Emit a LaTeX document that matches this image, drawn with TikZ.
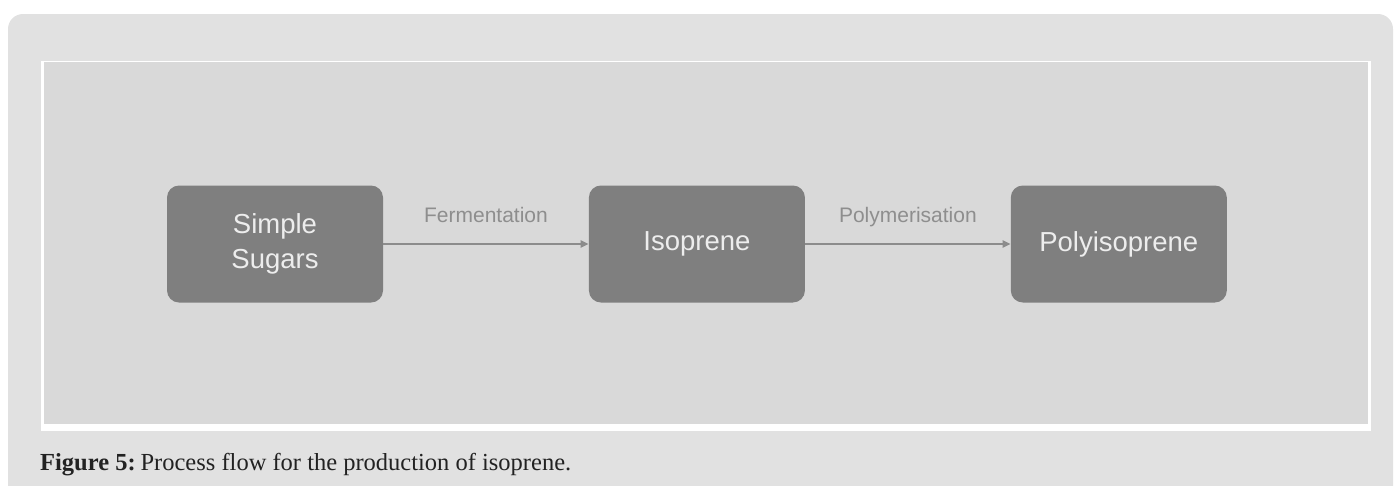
\documentclass[tikz,border=0pt]{standalone}
\usepackage{fontspec}
\setmainfont{Liberation Serif}
\setsansfont{Liberation Sans}
\usepackage{xcolor}
\usetikzlibrary{arrows.meta, positioning}
\definecolor{panelgray}{HTML}{E1E1E1}
\definecolor{figgray}{HTML}{D9D9D9}
\definecolor{boxgray}{HTML}{7F7F7F}
\definecolor{linegray}{HTML}{8C8C8C}
\definecolor{labelgray}{HTML}{8E8E8E}
\definecolor{captext}{HTML}{222222}
\tikzset{
	stagebox/.style = {draw=none, fill=boxgray, rounded corners=12pt, minimum width=216pt, minimum height=117pt, align=center, text=white!93!black, font=\sffamily\fontsize{27.5}{35}\selectfont},
	flow/.style = {draw=linegray, line width=2pt, -{Triangle[length=8pt,width=7pt]}},
	steplabel/.style = {anchor=base, yshift=22pt, text=labelgray, font=\sffamily\fontsize{21}{22}\selectfont, inner sep=0pt}
}

\begin{document}
\begin{tikzpicture}[x=1pt, y=-1pt, node distance=205.5pt]
	\useasboundingbox (0,0) rectangle (1394,485);
	
	% panel and figure frame
	\fill[panelgray, rounded corners=15pt]	(8,14) rectangle (1393,505);
	\fill[white]				(41,61) rectangle (1371,431);
	\fill[figgray]				(44,62) rectangle (1368,424);
	
	\node[stagebox] (sugars) at (275,244) {Simple\\Sugars};
	\node[stagebox, right=of sugars] (isoprene) {Isoprene};
	\node[stagebox, right=of isoprene] (polyisoprene) {Polyisoprene};
	
	\draw[flow]	(sugars) -- node[steplabel] {Fermentation} (isoprene);
	\draw[flow]	(isoprene) -- node[steplabel] {Polymerisation} (polyisoprene);
	
	\node[anchor=base west, text=captext, font=\fontsize{24.5}{26}\selectfont, inner sep=0pt] (caption) at (40,470) {\textbf{Figure 5:}\hspace{0.2em}Process flow for the production of isoprene.};
\end{tikzpicture}
\end{document}
